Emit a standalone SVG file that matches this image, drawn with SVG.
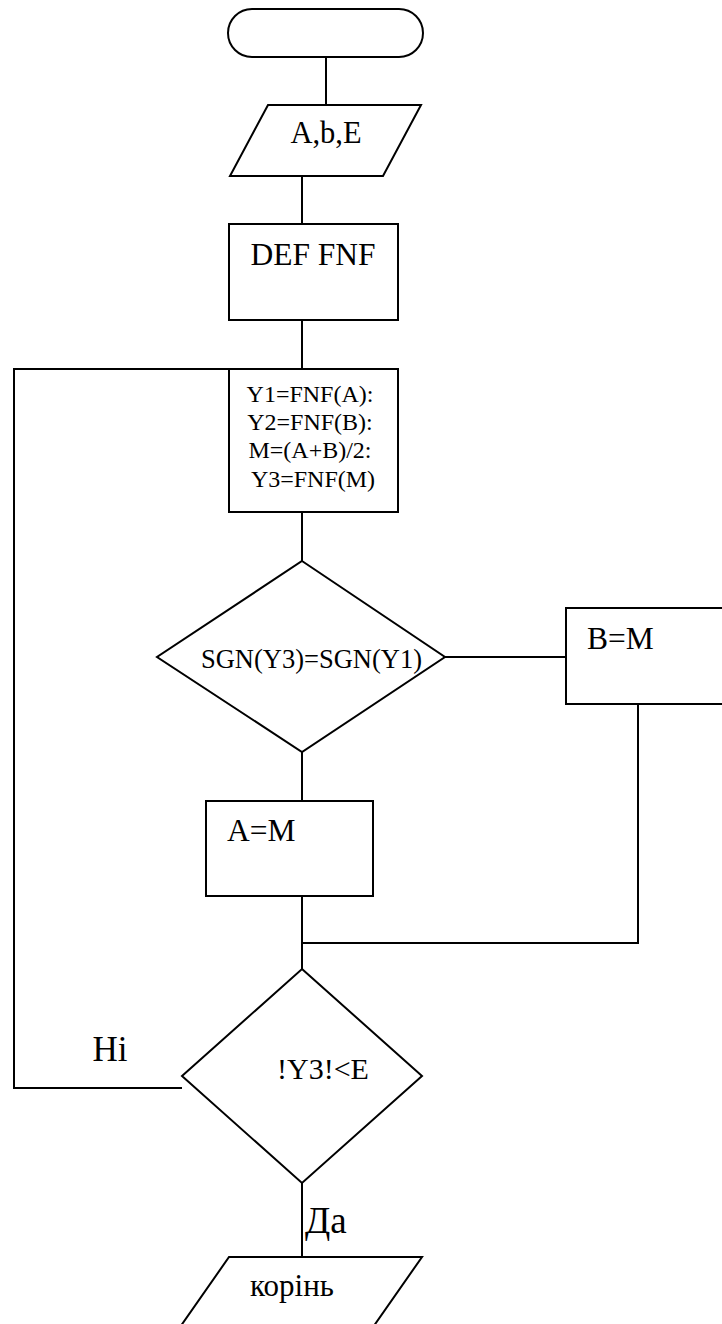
<svg xmlns="http://www.w3.org/2000/svg" width="722" height="1324" viewBox="0 0 722 1324">
<style>
.s{fill:#fff;stroke:#000;stroke-width:2}
.c{fill:none;stroke:#000;stroke-width:2}
text{font-family:"Liberation Serif","Times New Roman",serif;fill:#000}
</style>
<rect width="722" height="1324" fill="#fff"/>
<g id="connectors">
<line class="c" x1="326" y1="57" x2="326" y2="105"/>
<line class="c" x1="302" y1="176" x2="302" y2="224"/>
<line class="c" x1="302" y1="320" x2="302" y2="369"/>
<line class="c" x1="302" y1="512" x2="302" y2="561"/>
<line class="c" x1="445" y1="657" x2="566" y2="657"/>
<line class="c" x1="302" y1="752" x2="302" y2="801"/>
<polyline class="c" points="638,704 638,943 302,943"/>
<line class="c" x1="302" y1="896" x2="302" y2="969"/>
<polyline class="c" points="182,1088 14,1088 14,369 229,369"/>
<line class="c" x1="302" y1="1183" x2="302" y2="1257"/>
<text x="110" y="1061" font-size="35" text-anchor="middle">Hi</text>
<text x="305" y="1233" font-size="37">Да</text>
</g>
<g id="start">
<rect class="s" x="228" y="9" width="195" height="48" rx="24" ry="24"/>
</g>
<g id="input">
<polygon class="s" points="268,105 421,105 383,176 230,176"/>
<text x="326" y="143" font-size="30.5" text-anchor="middle">A,b,E</text>
</g>
<g id="def">
<rect class="s" x="229" y="224" width="169" height="96"/>
<text x="313" y="265" font-size="31.5" text-anchor="middle">DEF FNF</text>
</g>
<g id="calc">
<rect class="s" x="229" y="369" width="169" height="143"/>
<text font-size="24" text-anchor="middle">
<tspan x="313" y="402">Y1=FNF(A):</tspan>
<tspan x="313" y="430">Y2=FNF(B):</tspan>
<tspan x="313" y="458">M=(A+B)/2:</tspan>
<tspan x="313" y="487">Y3=FNF(M)</tspan>
</text>
</g>
<g id="cond1">
<polygon class="s" points="302,561 445,657 302,752 157,657"/>
<text x="311.5" y="668" font-size="26.5" text-anchor="middle">SGN(Y3)=SGN(Y1)</text>
</g>
<g id="bm">
<rect class="s" x="566" y="608" width="170" height="96"/>
<text x="587" y="649" font-size="31.5">B=M</text>
</g>
<g id="am">
<rect class="s" x="206" y="801" width="167" height="95"/>
<text x="227" y="841" font-size="31.5">A=M</text>
</g>
<g id="cond2">
<polygon class="s" points="302,969 422,1076 302,1183 182,1076"/>
<text x="323" y="1079" font-size="30" text-anchor="middle">!Y3!&lt;E</text>
</g>
<g id="output">
<polygon class="s" points="229,1257 422,1257 371,1330 178,1330"/>
<text x="292" y="1296" font-size="31" text-anchor="middle">корінь</text>
</g>
</svg>
